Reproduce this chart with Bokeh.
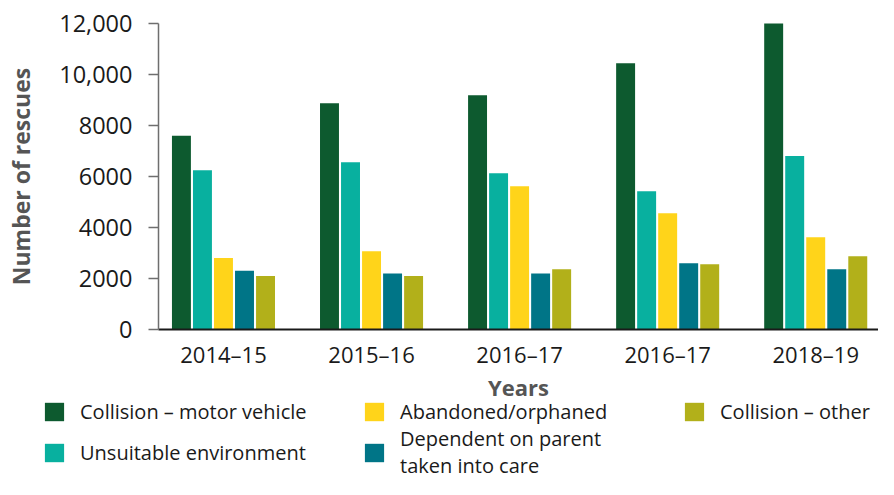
import numpy as np
from bokeh.plotting import figure
from bokeh.models import ColumnDataSource, Range1d, FixedTicker, Legend, LegendItem
from bokeh.transform import dodge
from bokeh.embed import file_html
from bokeh.resources import INLINE

# ---- data ----
years = ["2014–15", "2015–16", "2016–17", "2016–17", "2018–19"]
series_names = [
    "Collision – motor vehicle",
    "Unsuitable environment",
    "Abandoned/orphaned",
    "Dependent on parent\ntaken into care",
    "Collision – other",
]
collision_motor = [7600, 8870, 9190, 10440, 12000]
unsuitable_env = [6250, 6560, 6130, 5420, 6800]
abandoned = [2800, 3070, 5620, 4560, 3620]
dependent = [2300, 2200, 2200, 2600, 2360]
collision_other = [2100, 2100, 2360, 2560, 2870]
y_ticks = [0, 2000, 4000, 6000, 8000, 10000, 12000]
y_tick_labels = ["0", "2000", "4000", "6000", "8000", "10,000", "12,000"]

colors = ["#0d5a2f", "#08b09f", "#ffd41a", "#007587", "#b2b01a"]
FONT = "Open Sans"

# ---- layout constants (pixels / data extents) ----
W, H = 878, 479
Y_MAX = 12000
X_AXIS_START, X_AXIS_END = -0.439, 4.424          # extent of the drawn x axis (group units)
X_VIEW = (-1.506, 4.424)                            # whole canvas incl. room for the y axis
Y_VIEW = (-5882, 12902)                             # whole canvas incl. room for x labels/legend

src = ColumnDataSource(dict(
    idx=list(range(len(years))),
    s0=collision_motor, s1=unsuitable_env, s2=abandoned, s3=dependent, s4=collision_other,
))

p = figure(
    width=W, height=H,
    x_range=Range1d(*X_VIEW), y_range=Range1d(*Y_VIEW),
    output_backend="svg", toolbar_location=None,
    min_border_left=0, min_border_top=0, min_border_right=0, min_border_bottom=0,
)
p.outline_line_color = None
p.grid.visible = False

offsets = [-0.284, -0.142, 0.0, 0.142, 0.284]
renderers = []
for k in range(5):
    r = p.vbar(x=dodge("idx", offsets[k], range=p.x_range), top=f"s{k}", width=0.128,
               source=src, fill_color=colors[k], line_color=None)
    renderers.append(r)

# y axis (drawn at the left end of the x axis)
p.yaxis.fixed_location = X_AXIS_START
p.yaxis.bounds = (0, Y_MAX)
p.yaxis.ticker = FixedTicker(ticks=y_ticks)
p.yaxis.major_label_overrides = {t: l for t, l in zip(y_ticks, y_tick_labels)}
p.yaxis.axis_line_color = "#6e6e6e"
p.yaxis.axis_line_width = 1.5
p.yaxis.major_tick_line_color = "#6e6e6e"
p.yaxis.major_tick_line_width = 1.5
p.yaxis.major_tick_out = 10
p.yaxis.major_tick_in = 0
p.yaxis.minor_tick_line_color = None
p.yaxis.major_label_standoff = 16
p.yaxis.major_label_text_font = FONT
p.yaxis.major_label_text_font_size = "23.5px"
p.yaxis.major_label_text_color = "#1a1a1a"
p.yaxis.axis_label = "Number of rescues"
p.yaxis.axis_label_text_font = FONT
p.yaxis.axis_label_text_font_style = "bold"
p.yaxis.axis_label_text_font_size = "23px"
p.yaxis.axis_label_text_color = "#555555"
p.yaxis.axis_label_standoff = 19

# x axis (drawn at y = 0)
p.xaxis.fixed_location = 0
p.xaxis.bounds = (X_AXIS_START, X_AXIS_END)
p.xaxis.ticker = FixedTicker(ticks=list(range(len(years))))
p.xaxis.major_label_overrides = {i: y for i, y in enumerate(years)}
p.xaxis.axis_line_color = "#1a1a1a"
p.xaxis.axis_line_width = 2
p.xaxis.major_tick_line_color = None
p.xaxis.minor_tick_line_color = None
p.xaxis.major_label_standoff = 3
p.xaxis.major_label_text_font = FONT
p.xaxis.major_label_text_font_size = "22px"
p.xaxis.major_label_text_color = "#1a1a1a"
p.xaxis.axis_label = "Years"
p.xaxis.axis_label_text_font = FONT
p.xaxis.axis_label_text_font_style = "bold"
p.xaxis.axis_label_text_font_size = "22px"
p.xaxis.axis_label_text_color = "#555555"
p.xaxis.axis_label_standoff = 0

legend = Legend(
    items=[LegendItem(label=series_names[k], renderers=[renderers[k]]) for k in range(5)],
    location=(42, 0), orientation="vertical", nrows=2,
    glyph_width=24, glyph_height=23, label_standoff=14, spacing=0,
    label_width=282, padding=0, margin=0,
    label_text_font=FONT, label_text_font_size="20px", label_text_color="#1a1a1a",
    label_text_line_height=1.0,
    border_line_color=None, background_fill_alpha=0,
)
p.add_layout(legend)

open("out.html", "w").write(file_html(p, INLINE))
